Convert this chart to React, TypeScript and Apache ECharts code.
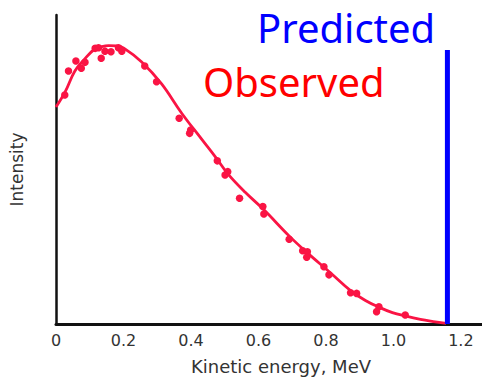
import React, { useEffect, useRef } from "react";
import * as echarts from "echarts";

// Tick labels for the kinetic energy axis (MeV)
const xTickLabels = ["0", "0.2", "0.4", "0.6", "0.8", "1.0", "1.2"];

// Fitted (smooth) observed spectrum: energy (MeV), intensity (arb.)
const curveEnergy = [0.0, 0.027, 0.056, 0.086, 0.115, 0.136, 0.156, 0.18, 0.201, 0.254, 0.313, 0.372, 0.431, 0.475, 0.51, 0.56, 0.614, 0.69, 0.74, 0.814, 0.873, 0.917, 0.956, 0.997, 1.035, 1.08, 1.118, 1.156];
const curveIntensity = [70.2, 75.1, 81.9, 85.9, 89.0, 89.8, 90.1, 90.0, 89.3, 84.8, 77.7, 68.3, 59.9, 53.7, 48.5, 42.7, 37.2, 28.6, 23.5, 16.5, 10.8, 7.6, 5.5, 3.7, 2.6, 1.5, 0.8, 0.2];

// Measured points
const pointEnergy = [0.026, 0.037, 0.059, 0.075, 0.086, 0.116, 0.126, 0.134, 0.145, 0.163, 0.185, 0.195, 0.263, 0.298, 0.365, 0.399, 0.396, 0.478, 0.509, 0.501, 0.544, 0.613, 0.616, 0.691, 0.731, 0.745, 0.743, 0.794, 0.809, 0.873, 0.891, 0.957, 0.95, 1.035];
const pointIntensity = [74.1, 81.9, 85.1, 82.8, 84.7, 89.2, 89.4, 86.0, 88.3, 88.1, 89.4, 88.3, 83.5, 78.4, 66.6, 62.8, 61.7, 52.8, 49.3, 48.2, 40.7, 38.0, 35.6, 27.4, 23.7, 23.4, 21.6, 18.5, 15.9, 10.1, 9.9, 5.6, 4.0, 2.9];

// Predicted (single energy) line
const predictedEnergy = [1.16, 1.16];
const predictedIntensity = [0, 88.7];

const RED = "#fa1444";
const BLUE = "#0000ff";
const AXIS_TEXT = "#333333";

export default function App() {
  const ref = useRef<HTMLDivElement>(null);
  useEffect(() => {
    if (!ref.current) return;
    const chart = echarts.init(ref.current, undefined, { renderer: "svg" });
    const curve = curveEnergy.map((x, i) => [x, curveIntensity[i]]);
    const pts = pointEnergy.map((x, i) => [x, pointIntensity[i]]);
    const pred = predictedEnergy.map((x, i) => [x, predictedIntensity[i]]);
    chart.setOption({
      animation: false,
      grid: { left: 54, right: 0, top: 15, bottom: 59, containLabel: false },
      xAxis: {
        type: "value",
        min: 0,
        max: 1.2625,
        interval: 0.2,
        name: "Kinetic energy, MeV",
        nameLocation: "middle",
        nameGap: 33,
        nameTextStyle: { fontFamily: "DejaVu Sans", fontSize: 18, color: AXIS_TEXT, padding: [0, 0, 0, 24] },
        axisLine: { lineStyle: { color: "#111", width: 3 } },
        axisTick: { show: false },
        splitLine: { show: false },
        axisLabel: {
          showMaxLabel: false,
          margin: 8,
          fontFamily: "DejaVu Sans",
          fontSize: 16,
          color: AXIS_TEXT,
          formatter: (v: number) => xTickLabels[Math.round(v / 0.2)] ?? "",
        },
      },
      yAxis: {
        type: "value",
        min: 0,
        max: 100,
        name: "Intensity",
        nameLocation: "middle",
        nameGap: 31,
        nameTextStyle: { fontFamily: "DejaVu Sans", fontSize: 17, color: AXIS_TEXT },
        axisLine: { show: true, lineStyle: { color: "#111", width: 2.5 } },
        axisTick: { show: false },
        axisLabel: { show: false },
        splitLine: { show: false },
      },
      series: [
        {
          type: "line",
          data: curve,
          smooth: 0.4,
          showSymbol: false,
          lineStyle: { color: RED, width: 2.8 },
          z: 2,
        },
        {
          type: "scatter",
          data: pts,
          symbolSize: 7.5,
          itemStyle: { color: RED, opacity: 1 },
          z: 3,
        },
        {
          type: "line",
          data: pred,
          showSymbol: false,
          lineStyle: { color: BLUE, width: 5 },
          z: 4,
        },
      ],
      graphic: [
        {
          type: "text",
          left: 257,
          top: 6,
          style: { text: "Predicted", fill: BLUE, font: "40px 'Noto Sans'", lineHeight: 42 },
        },
        {
          type: "text",
          left: 203,
          top: 60,
          style: { text: "Observed", fill: "#ff0000", font: "40px 'Noto Sans'", lineHeight: 42 },
        },
      ],
    });
    return () => chart.dispose();
  }, []);
  return (
    <div
      ref={ref}
      style={{ position: "fixed", left: 0, top: 0, width: 482, height: 383, background: "#fff" }}
    />
  );
}
